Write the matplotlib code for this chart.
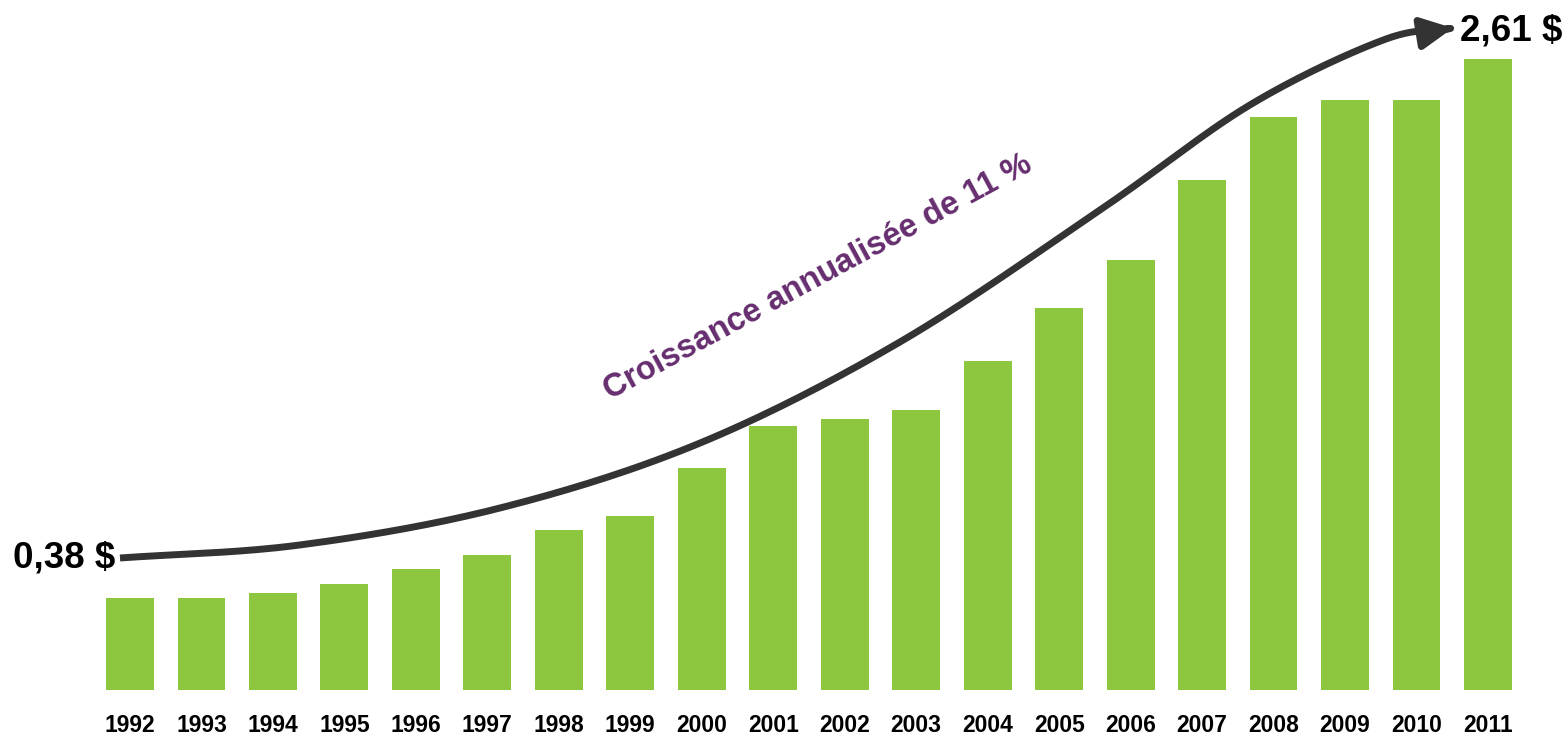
import numpy as np
import matplotlib
matplotlib.use("Agg")
import matplotlib.pyplot as plt
from matplotlib.path import Path
from matplotlib.patches import FancyArrowPatch

years = ["1992", "1993", "1994", "1995", "1996", "1997", "1998", "1999", "2000", "2001",
         "2002", "2003", "2004", "2005", "2006", "2007", "2008", "2009", "2010", "2011"]
values = [0.38, 0.38, 0.40, 0.44, 0.50, 0.56, 0.66, 0.72, 0.92, 1.09,
          1.12, 1.16, 1.36, 1.58, 1.78, 2.11, 2.37, 2.44, 2.44, 2.61]
start_label = "0,38 $"
end_label = "2,61 $"
growth_label = "Croissance annualisée de 11 %"

# guide points of the decorative growth arrow (x in bar index, y in value units)
arrow_x = [-0.14, 2.38, 5.18, 7.98, 10.77, 13.57, 15.67, 17.53, 18.51]
arrow_y = [0.546, 0.600, 0.753, 1.022, 1.439, 1.985, 2.420, 2.688, 2.738]

GREEN = "#8DC63F"
PURPLE = "#662D6F"
DARK = "#333333"

plt.rcParams["font.family"] = ["Liberation Sans", "DejaVu Sans"]

fig = plt.figure(figsize=(15.65, 7.35), dpi=100)
ax = fig.add_axes([0, 45 / 735, 1, 690 / 735])
x = np.arange(len(years))
ax.bar(x, values, width=0.67, color=GREEN)
ax.set_xlim(-1.819, 20.078)
ax.set_ylim(0, 2.854)
for s in ax.spines.values():
    s.set_visible(False)
ax.set_yticks([])
ax.set_xticks(x)
ax.set_xticklabels(years, fontsize=16.5, fontweight="bold")
ax.tick_params(axis="x", length=0, pad=17)

# smooth curve through guide points (Catmull-Rom)
P = np.column_stack([arrow_x, arrow_y])
Pe = np.vstack([P[0] - (P[1] - P[0]), P, P[-1] + (P[-1] - P[-2])])
pts = []
for i in range(1, len(Pe) - 2):
    p0, p1, p2, p3 = Pe[i - 1], Pe[i], Pe[i + 1], Pe[i + 2]
    for t in np.linspace(0, 1, 30, endpoint=False):
        t2, t3 = t * t, t * t * t
        pts.append(0.5 * ((2 * p1) + (-p0 + p2) * t + (2 * p0 - 5 * p1 + 4 * p2 - p3) * t2
                          + (-p0 + 3 * p1 - 3 * p2 + p3) * t3))
pts.append(P[-1])
pts = np.array(pts)
path = Path(pts, [Path.MOVETO] + [Path.LINETO] * (len(pts) - 1))
arrow = FancyArrowPatch(path=path, arrowstyle="-|>,head_length=1.9,head_width=0.95",
                        mutation_scale=10, color=DARK, linewidth=5, transform=ax.transData,
                        capstyle="butt", joinstyle="round")
ax.add_patch(arrow)

ax.text(-0.21, 0.545, start_label, ha="right", va="center", fontsize=26.5, fontweight="bold", color="black")
ax.text(18.61, 2.725, end_label, ha="left", va="center", fontsize=26.5, fontweight="bold", color="black")
ax.text(6.72, 1.20, growth_label, ha="left", va="baseline", rotation=28.5, rotation_mode="anchor",
        fontsize=23.5, fontweight="bold", color=PURPLE)

fig.savefig("out.png", dpi=100)
